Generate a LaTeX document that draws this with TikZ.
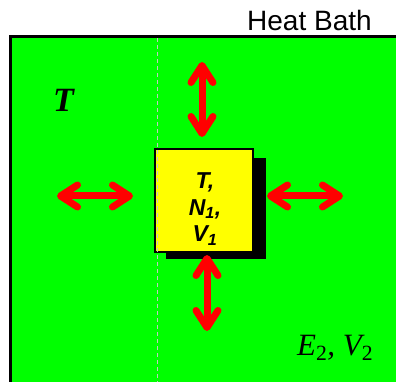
\documentclass[tikz,border=0pt]{standalone}
\usepackage{fontspec}
\setmainfont{Liberation Serif}
\setsansfont{Liberation Sans}
\usetikzlibrary{arrows.meta}
\definecolor{bathgreen}{RGB}{0,255,0}
\definecolor{boxyellow}{RGB}{255,255,0}
\definecolor{arrowred}{RGB}{255,0,0}
\tikzset{
  bigarrow/.style={draw=arrowred, line width=7pt, line cap=round,
    {Straight Barb[length=17pt, width=22pt, round]}-{Straight Barb[length=17pt, width=22pt, round]}},
  boxtext/.style={font=\sffamily\bfseries\itshape\fontsize{23}{26.5}\selectfont, align=center},
}
\begin{document}
\begin{tikzpicture}[x=1pt, y=-1pt]
\useasboundingbox (0,0) rectangle (396,382);
% heat bath
\fill[bathgreen] (10,36.5) rectangle (400,386);
\draw[line width=3pt] (10,386) -- (10,36.5) -- (400,36.5);
\node[font=\sffamily\fontsize{28}{32}\selectfont, anchor=base west, inner sep=0pt] (hb) at (247,31) {Heat Bath};
\node[font=\bfseries\itshape\fontsize{34}{36}\selectfont, anchor=base west, inner sep=0pt] (tb) at (53,112) {T};
\node[font=\itshape\fontsize{31}{34}\selectfont, anchor=base west, inner sep=0pt] (ev) at (297,355) {E\textsubscript{\upshape 2}, V\textsubscript{\upshape 2}};
% system box
\fill[black] (166,158) rectangle (266,259);
\draw[fill=boxyellow, line width=2pt] (155,149) rectangle (253,252);
\node[boxtext] (sys) at (205,209) {T,\\N\textsubscript{1},\\V\textsubscript{1}};
% dashed line
\draw[gray!45, line width=0.8pt, dash pattern=on 4pt off 3pt] (157,38) -- (157,382);
% arrows
\coordinate (t1) at (202,62);  \coordinate (t2) at (202,137);
\coordinate (b1) at (207,255); \coordinate (b2) at (207,331);
\coordinate (l1) at (57,196);  \coordinate (l2) at (133,196);
\coordinate (r1) at (267,196); \coordinate (r2) at (343,196);
\draw[bigarrow] (t1) -- (t2);
\draw[bigarrow] (b1) -- (b2);
\draw[bigarrow] (l1) -- (l2);
\draw[bigarrow] (r1) -- (r2);
\end{tikzpicture}
\end{document}
